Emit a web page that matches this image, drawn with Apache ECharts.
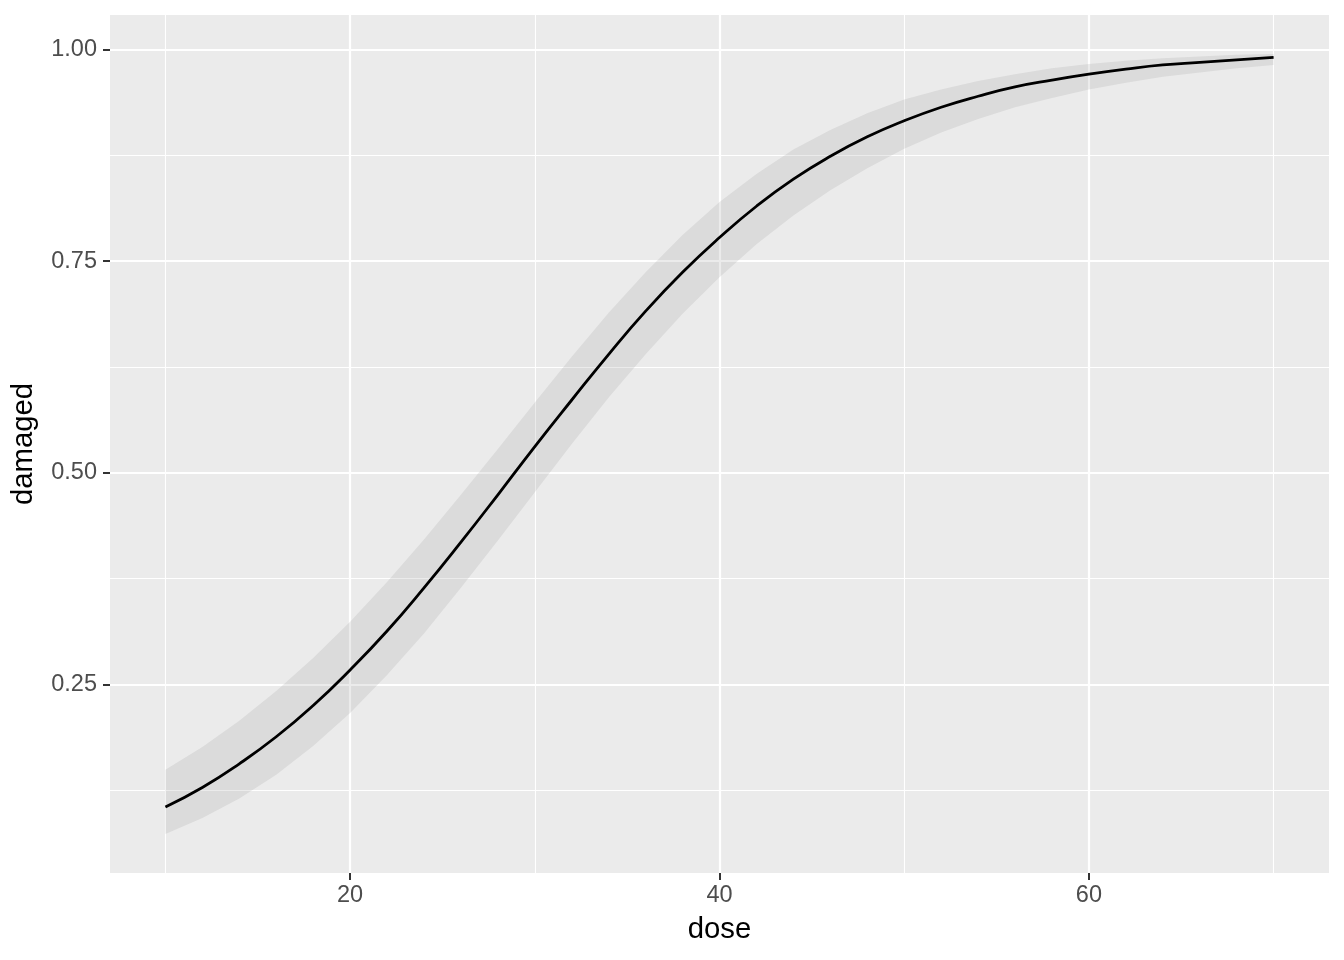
<!DOCTYPE html>
<html>
<head>
<meta charset="utf-8">
<script src="https://cdn.jsdelivr.net/npm/echarts@6/dist/echarts.min.js"></script>
<style>
  html, body { margin: 0; padding: 0; background: #ffffff; }
  #chart { width: 1344px; height: 960px; }
</style>
</head>
<body>
<div id="chart"></div>
<script>
// ---- data ----
const dose = [10, 12, 14, 16, 18, 20, 22, 24, 26, 28, 30, 32, 34, 36, 38, 40,
              42, 44, 46, 48, 50, 52, 54, 56, 58, 60, 62, 64, 66, 68, 70];
const fitted = [0.105, 0.128, 0.156, 0.188, 0.225, 0.267, 0.313, 0.364, 0.418, 0.474,
                0.531, 0.586, 0.640, 0.691, 0.737, 0.778, 0.815, 0.847, 0.874, 0.897,
                0.916, 0.932, 0.945, 0.956, 0.964, 0.971, 0.977, 0.982, 0.985, 0.988, 0.991];
const lower = [0.073, 0.092, 0.115, 0.143, 0.177, 0.216, 0.261, 0.310, 0.364, 0.420,
               0.477, 0.534, 0.589, 0.640, 0.688, 0.731, 0.770, 0.804, 0.834, 0.860,
               0.883, 0.902, 0.918, 0.932, 0.943, 0.953, 0.961, 0.968, 0.973, 0.978, 0.982];
const upper = [0.149, 0.176, 0.207, 0.242, 0.281, 0.324, 0.371, 0.421, 0.474, 0.528,
               0.583, 0.637, 0.689, 0.737, 0.781, 0.820, 0.853, 0.882, 0.905, 0.925,
               0.941, 0.953, 0.963, 0.971, 0.978, 0.983, 0.987, 0.990, 0.992, 0.994, 0.995];
const xMajorTicks = [20, 40, 60];
const xMinorTicks = [10, 30, 50, 70];
const yMajorTicks = [0.25, 0.50, 0.75, 1.00];
const yMinorTicks = [0.125, 0.375, 0.625, 0.875];
const xTitle = 'dose';
const yTitle = 'damaged';

// ---- chart ----
const FONT = '"Liberation Sans", Arial, Helvetica, sans-serif';
const chart = echarts.init(document.getElementById('chart'), null, { renderer: 'canvas' });

// band table: one row per dose, [dose, lower, upper]
const bandRows = dose.map((d, i) => [d, lower[i], upper[i]]);
const fitPts = dose.map((d, i) => [d, fitted[i]]);

const XMIN = 7, XMAX = 73, YMIN = 0.027, YMAX = 1.041;

function renderBand(params, api) {
  if (params.dataIndex !== 0) return null;
  const top = bandRows.map(r => api.coord([r[0], r[2]]));
  const bottom = bandRows.map(r => api.coord([r[0], r[1]])).reverse();
  return {
    type: 'polygon',
    shape: { points: top.concat(bottom) },
    style: { fill: 'rgba(153,153,153,0.2)', stroke: null }
  };
}

const option = {
  animation: false,
  backgroundColor: '#ffffff',
  grid: {
    left: 110, right: 15, top: 15, bottom: 87,
    show: true, backgroundColor: '#EBEBEB', borderWidth: 0
  },
  xAxis: [
    {
      type: 'value', min: XMIN, max: XMAX,
      name: xTitle, nameLocation: 'middle', nameGap: 42,
      nameTextStyle: { color: '#000000', fontSize: 29.3, fontFamily: FONT },
      axisLine: { show: false },
      axisTick: { show: true, length: 7, customValues: xMajorTicks,
                  lineStyle: { color: '#333333', width: 2 } },
      axisLabel: { show: true, customValues: xMajorTicks, margin: 11,
                   color: '#4D4D4D', fontSize: 23.5, fontFamily: FONT },
      splitLine: { show: true, lineStyle: { color: '#ffffff', width: 2.2 } }
    },
    {
      type: 'value', min: XMIN, max: XMAX, position: 'bottom',
      axisLine: { show: false },
      axisTick: { show: false, customValues: xMinorTicks },
      axisLabel: { show: false, customValues: xMinorTicks },
      splitLine: { show: true, lineStyle: { color: '#ffffff', width: 1.1 } }
    }
  ],
  yAxis: [
    {
      type: 'value', min: YMIN, max: YMAX,
      name: yTitle, nameLocation: 'middle', nameGap: 72, nameRotate: 90,
      nameTextStyle: { color: '#000000', fontSize: 29.3, fontFamily: FONT },
      axisLine: { show: false },
      axisTick: { show: true, length: 7, customValues: yMajorTicks,
                  lineStyle: { color: '#333333', width: 2 } },
      axisLabel: { show: true, customValues: yMajorTicks, margin: 13,
                   color: '#4D4D4D', fontSize: 23.5, fontFamily: FONT,
                   formatter: v => v.toFixed(2) },
      splitLine: { show: true, lineStyle: { color: '#ffffff', width: 2.2 } }
    },
    {
      type: 'value', min: YMIN, max: YMAX, position: 'left',
      axisLine: { show: false },
      axisTick: { show: false, customValues: yMinorTicks },
      axisLabel: { show: false, customValues: yMinorTicks },
      splitLine: { show: true, lineStyle: { color: '#ffffff', width: 1.1 } }
    }
  ],
  series: [
    {
      name: 'band', type: 'custom', data: bandRows,
      xAxisIndex: 0, yAxisIndex: 0,
      encode: { x: 0, y: [1, 2] },
      renderItem: renderBand, silent: true, z: 2
    },
    {
      name: 'fit', type: 'line', data: fitPts,
      xAxisIndex: 0, yAxisIndex: 0,
      symbol: 'none', smooth: true, silent: true,
      lineStyle: { color: '#000000', width: 2.8 }, z: 3
    }
  ]
};
chart.setOption(option);
</script>
</body>
</html>
